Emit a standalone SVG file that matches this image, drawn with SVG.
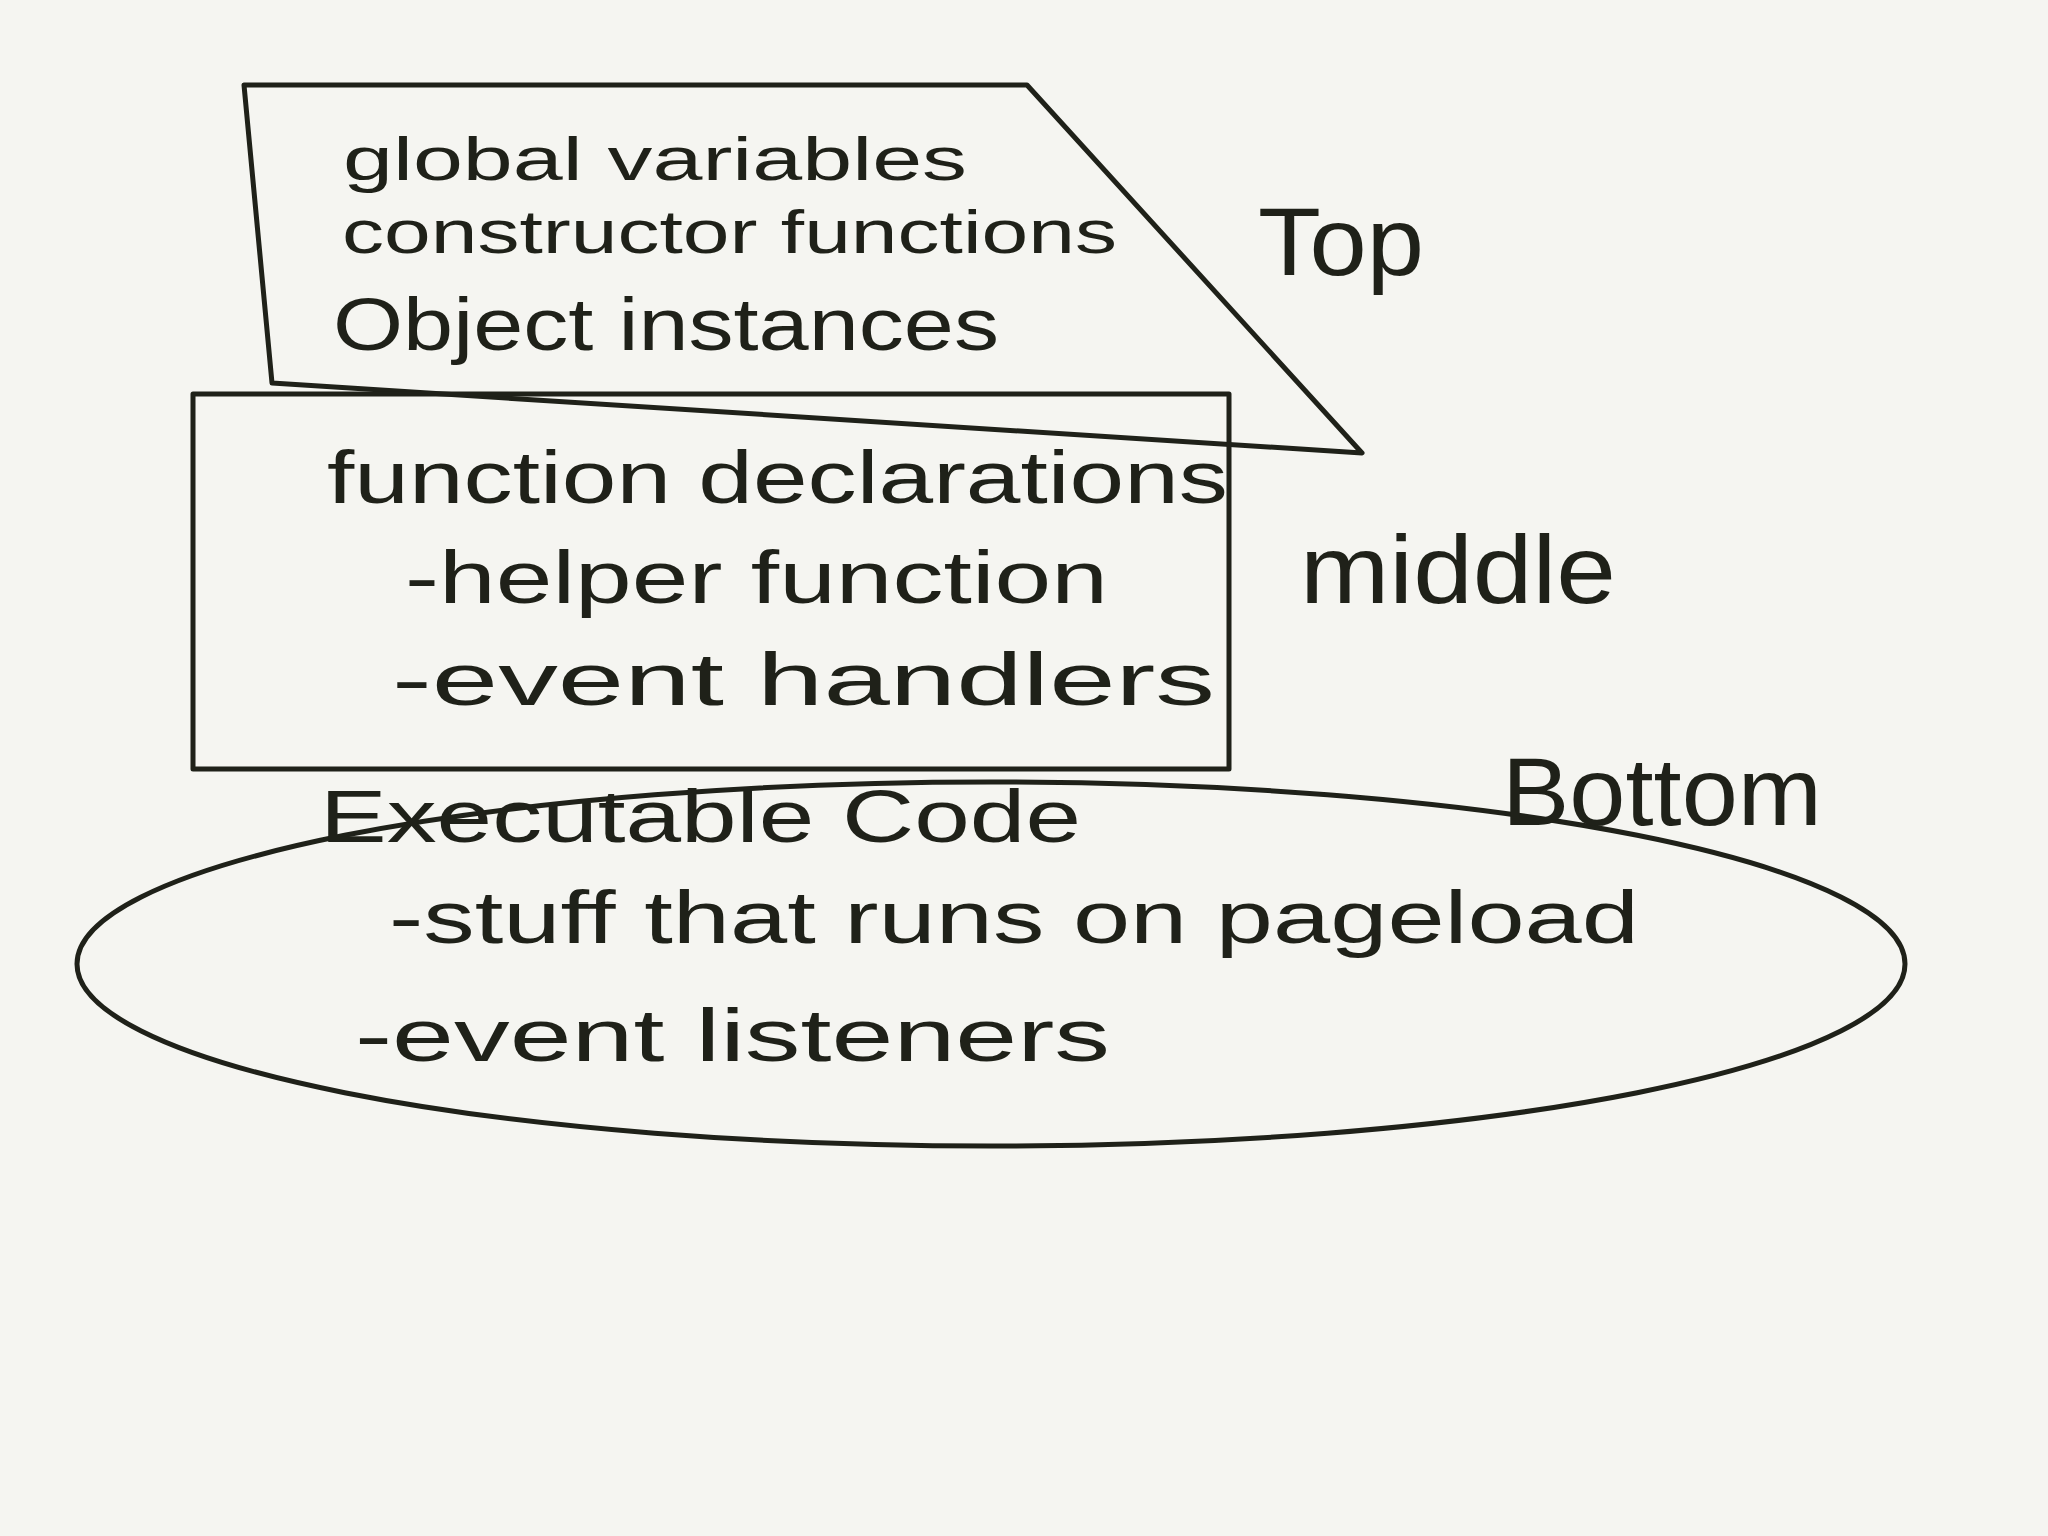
<svg xmlns="http://www.w3.org/2000/svg" width="2048" height="1536" viewBox="0 0 2048 1536">
<style>
.shape{fill:none;stroke:#1f2119;stroke-width:5;stroke-linejoin:round}
.t{font-family:"Liberation Sans",Arial,sans-serif;fill:#1f2119;font-size:74px}
.s{font-size:62px}
.big{font-size:96px}
</style>
<rect width="2048" height="1536" fill="#f5f5f1"/>
<g id="top-node">
<polygon class="shape" points="244,85 1027,85 1362,453 272,383"/>
<text class="t s" x="343" y="180" textLength="624" lengthAdjust="spacingAndGlyphs">global variables</text>
<text class="t s" x="342" y="253" textLength="775" lengthAdjust="spacingAndGlyphs">constructor functions</text>
<text class="t" x="333" y="350" textLength="666" lengthAdjust="spacingAndGlyphs">Object instances</text>
</g>
<g id="middle-node">
<rect class="shape" x="193" y="394" width="1036" height="375"/>
<text class="t" x="327" y="503" textLength="901" lengthAdjust="spacingAndGlyphs">function declarations</text>
<text class="t" x="405" y="603" textLength="703" lengthAdjust="spacingAndGlyphs">-helper function</text>
<text class="t" x="392" y="705" textLength="823" lengthAdjust="spacingAndGlyphs">-event handlers</text>
</g>
<g id="bottom-node">
<ellipse class="shape" cx="991" cy="964" rx="914" ry="182"/>
<text class="t" x="320" y="842" textLength="761" lengthAdjust="spacingAndGlyphs">Executable Code</text>
<text class="t" x="389" y="943" textLength="1250" lengthAdjust="spacingAndGlyphs">-stuff that runs on pageload</text>
<text class="t" x="355" y="1061" textLength="755" lengthAdjust="spacingAndGlyphs">-event listeners</text>
</g>
<g id="labels">
<text class="t big" x="1258" y="275" textLength="166" lengthAdjust="spacingAndGlyphs">Top</text>
<text class="t big" x="1300" y="603" textLength="316" lengthAdjust="spacingAndGlyphs">middle</text>
<text class="t big" x="1502" y="825" textLength="320" lengthAdjust="spacingAndGlyphs">Bottom</text>
</g>
<g id="connectors"/>
</svg>
